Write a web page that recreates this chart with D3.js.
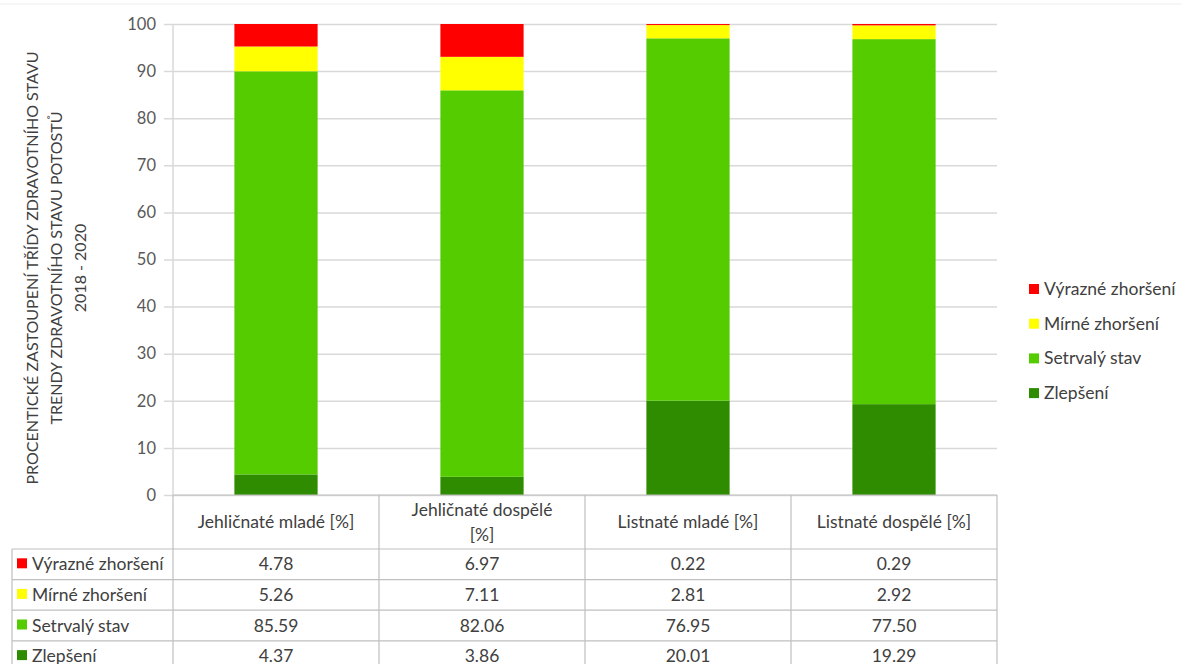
<!DOCTYPE html>
<html>
<head>
<meta charset="utf-8">
<script src="https://cdn.jsdelivr.net/npm/d3@7"></script>
<style>
  body { margin: 0; background: #fff; }
  svg { display: block; font-family: Lato, "Open Sans", sans-serif; }
</style>
</head>
<body>
<svg id="chart" width="1182" height="664"></svg>
<script>
// Stand categories (columns of the chart and table)
const categories = ["Jehličnaté mladé [%]", "Jehličnaté dospělé [%]", "Listnaté mladé [%]", "Listnaté dospělé [%]"];
const headerLines = [["Jehličnaté mladé [%]"], ["Jehličnaté dospělé", "[%]"], ["Listnaté mladé [%]"], ["Listnaté dospělé [%]"]];

// Series, bottom to top of each stack
const seriesNames = ["Zlepšení", "Setrvalý stav", "Mírné zhoršení", "Výrazné zhoršení"];
const zlepseni = [4.37, 3.86, 20.01, 19.29];
const setrvaly = [85.59, 82.06, 76.95, 77.50];
const mirne = [5.26, 7.11, 2.81, 2.92];
const vyrazne = [4.78, 6.97, 0.22, 0.29];
const seriesColors = ["#2F8C00", "#55CC00", "#FFFF00", "#FF0000"];

const yTicks = [0, 10, 20, 30, 40, 50, 60, 70, 80, 90, 100];
const axisTitle = ["PROCENTICKÉ ZASTOUPENÍ TŘÍDY ZDRAVOTNÍHO STAVU", "TRENDY ZDRAVOTNÍHO STAVU POTOSTŮ", "2018 - 2020"];

const values = [zlepseni, setrvaly, mirne, vyrazne];
const rows = categories.map((c, i) => {
  const r = { cat: c };
  seriesNames.forEach((s, k) => r[s] = values[k][i]);
  return r;
});

const svg = d3.select("#chart");
const textColor = "#404040";
const gridColor = "#D9D9D9";
const lineColor = "#BFBFBF";
const fs = 17.5;

const plot = { left: 173, right: 997, top: 24, bottom: 495 };

const x = d3.scaleBand().domain(categories).range([plot.left, plot.right]).padding(0);
const y = d3.scaleLinear().domain([0, 100]).range([plot.bottom, plot.top]);

// faint page edge line at top
svg.append("line").attr("x1", 0).attr("x2", 1182).attr("y1", 4).attr("y2", 4)
  .attr("stroke", "#EEEEEE").attr("stroke-width", 1);

// Gridlines + y axis
const yAxis = d3.axisLeft(y).tickValues(yTicks).tickSize(-(plot.right - plot.left + 9)).tickPadding(8);
const yg = svg.append("g").attr("transform", `translate(${plot.left - 9},0)`).call(yAxis);
yg.select(".domain").remove();
yg.selectAll(".tick line").attr("stroke", gridColor).attr("stroke-width", 1.5);
yg.selectAll(".tick text").attr("fill", "#595959").attr("font-size", 16.5).attr("font-family", "Lato, sans-serif");

// vertical axis line
svg.append("line").attr("x1", plot.left).attr("x2", plot.left)
  .attr("y1", plot.top).attr("y2", plot.bottom).attr("stroke", gridColor).attr("stroke-width", 1.5);

// Stacked bars
const stack = d3.stack().keys(seriesNames);
const stacked = stack(rows);
const barW = x.bandwidth() * 0.404;
svg.append("g").selectAll("g").data(stacked).join("g")
  .attr("fill", (d, i) => seriesColors[i])
  .selectAll("rect").data(d => d).join("rect")
  .attr("x", d => x(d.data.cat) + (x.bandwidth() - barW) / 2)
  .attr("width", barW)
  .attr("y", d => y(d[1]))
  .attr("height", d => y(d[0]) - y(d[1]));

// Y axis title (rotated, three lines)
const titleG = svg.append("g").attr("transform", "translate(57,268) rotate(-90)");
titleG.selectAll("text").data(axisTitle).join("text")
  .attr("x", 0).attr("y", (d, i) => (i - 1) * 24 + 5)
  .attr("text-anchor", "middle").attr("font-size", 16).attr("fill", textColor)
  .text(d => d);

// Legend (top series first)
const legendOrder = [3, 2, 1, 0];
const lg = svg.append("g");
legendOrder.forEach((k, i) => {
  const yy = 289 + i * 34.7;
  lg.append("rect").attr("x", 1029).attr("y", yy - 5).attr("width", 10).attr("height", 10).attr("fill", seriesColors[k]);
  lg.append("text").attr("x", 1044).attr("y", yy + 6).attr("font-size", fs).attr("fill", textColor).text(seriesNames[k]);
});

// Data table
const tbl = svg.append("g");
const headerBottom = 549;
const rowH = 30.6;
const tableLeft = 12;
const tableRows = [3, 2, 1, 0];
const colEdges = categories.map(c => x(c)).concat([plot.right]);

// vertical lines of the value columns
colEdges.forEach(cx => {
  tbl.append("line").attr("x1", cx).attr("x2", cx).attr("y1", plot.bottom).attr("y2", 680)
    .attr("stroke", lineColor).attr("stroke-width", 1.2);
});
// left border of row-header column
tbl.append("line").attr("x1", tableLeft).attr("x2", tableLeft).attr("y1", headerBottom).attr("y2", 680)
  .attr("stroke", lineColor).attr("stroke-width", 1.2);
// horizontal lines
svg.append("line").attr("x1", plot.left).attr("x2", plot.right).attr("y1", plot.bottom).attr("y2", plot.bottom)
  .attr("stroke", lineColor).attr("stroke-width", 1.2);
for (let i = 0; i <= tableRows.length; i++) {
  const yy = headerBottom + i * rowH;
  tbl.append("line").attr("x1", tableLeft).attr("x2", plot.right).attr("y1", yy).attr("y2", yy)
    .attr("stroke", lineColor).attr("stroke-width", 1.2);
}

// header texts
categories.forEach((c, i) => {
  const lines = headerLines[i];
  const cx = x(c) + x.bandwidth() / 2;
  lines.forEach((t, j) => {
    const yy = lines.length === 1 ? 528 : 516 + j * 25;
    tbl.append("text").attr("x", cx).attr("y", yy).attr("text-anchor", "middle")
      .attr("font-size", fs).attr("fill", textColor).text(t);
  });
});

// body rows
tableRows.forEach((k, r) => {
  const yy = headerBottom + r * rowH + rowH / 2 + 6;
  tbl.append("rect").attr("x", 17).attr("y", yy - 12).attr("width", 10).attr("height", 10).attr("fill", seriesColors[k]);
  tbl.append("text").attr("x", 32).attr("y", yy).attr("font-size", fs).attr("fill", textColor).text(seriesNames[k]);
  categories.forEach((c, i) => {
    tbl.append("text").attr("x", x(c) + x.bandwidth() / 2).attr("y", yy).attr("text-anchor", "middle")
      .attr("font-size", fs).attr("fill", textColor).text(values[k][i].toFixed(2));
  });
});
</script>
</body>
</html>
